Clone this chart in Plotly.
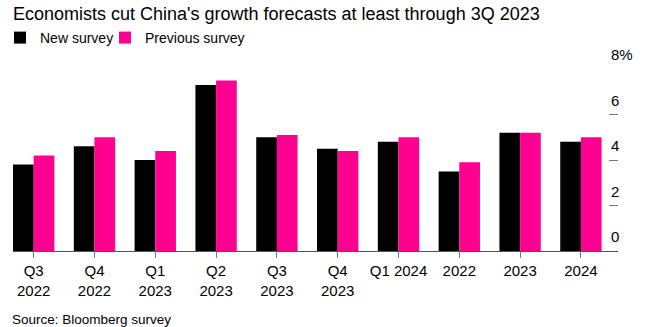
import plotly.graph_objects as go

categories = ["Q3<br>2022", "Q4<br>2022", "Q1<br>2023", "Q2<br>2023", "Q3<br>2023",
              "Q4<br>2023", "Q1 2024", "2022", "2023", "2024"]
new_survey = [3.8, 4.6, 4.0, 7.3, 5.0, 4.5, 4.8, 3.5, 5.2, 4.8]
previous_survey = [4.2, 5.0, 4.4, 7.5, 5.1, 4.4, 5.0, 3.9, 5.2, 5.0]
y_ticks = [0, 2, 4, 6, 8]
y_tick_labels = ["0", "2", "4", "6", "8%"]

FONT = "Liberation Sans, Arial, sans-serif"
W, H = 649, 327
L, R, T, B = 13, 31, 69, 76

fig = go.Figure()
fig.add_trace(go.Bar(x=categories, y=new_survey, name="New survey",
                     marker=dict(color="#000000", line=dict(width=0))))
fig.add_trace(go.Bar(x=categories, y=previous_survey, name="Previous survey",
                     marker=dict(color="#FF0090", line=dict(width=0))))
# invisible spacer legend entry so the last legend label is not clipped
fig.add_trace(go.Scatter(x=[None], y=[None], name=" ", showlegend=True,
                         mode="markers", hoverinfo="skip",
                         marker=dict(color="rgba(0,0,0,0)", size=1)))

annotations = []
for v, t in zip(y_ticks, y_tick_labels):
    annotations.append(dict(x=1, xref="paper", xanchor="left", xshift=-9,
                            y=v, yref="y", yanchor="bottom", yshift=4,
                            text=t, showarrow=False,
                            font=dict(family=FONT, size=15, color="#000")))
annotations.append(dict(x=(10 - L) / (W - L - R), xref="paper", xanchor="left",
                        y=(H - B - 319) / (H - T - B), yref="paper", yanchor="middle",
                        text="Source: Bloomberg survey", showarrow=False,
                        font=dict(family=FONT, size=13.5, color="#000")))

fig.update_layout(
    width=W, height=H,
    margin=dict(l=L, r=R, t=T, b=B),
    paper_bgcolor="white", plot_bgcolor="white",
    font=dict(family=FONT, size=14, color="#000"),
    title=dict(text="Economists cut China's growth forecasts at least through 3Q 2023",
               x=13 / W, xref="container", xanchor="left",
               y=1 - 14 / H, yref="container", yanchor="middle",
               font=dict(family=FONT, size=18, color="#000")),
    legend=dict(orientation="h", x=-9 / W, xref="container", xanchor="left",
                y=1 - 38 / H, yref="container", yanchor="middle",
                font=dict(family=FONT, size=14, color="#000"),
                itemwidth=30, traceorder="normal",
                entrywidth=60, entrywidthmode="pixels"),
    barmode="group", bargap=0.32, bargroupgap=0,
    xaxis=dict(type="category", range=[-0.34, 9.61],
               showline=True, linecolor="#555", linewidth=1,
               ticks="outside", ticklen=6, tickcolor="#777", tickwidth=1,
               tickfont=dict(family=FONT, size=15, color="#000"),
               showgrid=False, zeroline=False),
    yaxis=dict(range=[0, 8], side="right", showgrid=False, zeroline=False,
               showline=False, ticks="inside", ticklen=9, tickcolor="#777",
               tickwidth=1, tickvals=y_ticks, showticklabels=False),
    annotations=annotations,
)

fig.write_html("out.html")
